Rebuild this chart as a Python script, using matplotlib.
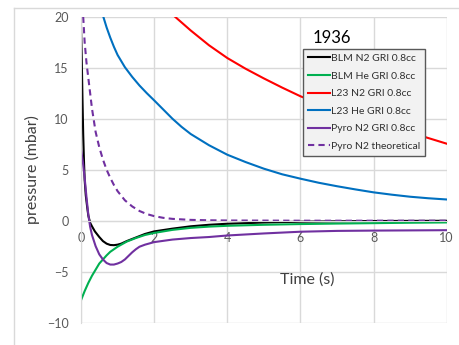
import matplotlib
matplotlib.use("Agg")
import matplotlib.pyplot as plt
from matplotlib.lines import Line2D

plt.rcParams['font.family'] = ['Lato', 'DejaVu Sans']

# --- values ---
blm_n2_t = [0, 0.02, 0.04, 0.06, 0.08, 0.1, 0.13, 0.17, 0.2, 0.25, 0.3, 0.38, 0.5, 0.6,
            0.7, 0.8, 0.9, 1.0, 1.1, 1.25, 1.5, 1.75, 2, 2.5, 3, 3.5, 4, 5, 6, 7, 8, 9, 10]
blm_n2_p = [19, 16, 12, 8.5, 6, 4, 2.5, 1.3, 0.5, -0.2, -0.55, -1.05, -1.6, -2.0,
            -2.25, -2.38, -2.4, -2.35, -2.25, -2.0, -1.65, -1.3, -1.05, -0.78, -0.55,
            -0.4, -0.3, -0.18, -0.1, -0.06, -0.03, -0.02, -0.01]

blm_he_t = [0, 0.1, 0.2, 0.3, 0.4, 0.5, 0.6, 0.7, 0.8, 0.9, 1.0, 1.25, 1.5, 1.75, 2,
            2.5, 3, 3.5, 4, 5, 6, 7, 8, 9, 10]
blm_he_p = [-7.8, -6.9, -6.1, -5.4, -4.8, -4.2, -3.8, -3.4, -3.05, -2.8, -2.55, -2.05,
            -1.7, -1.4, -1.2, -0.9, -0.7, -0.58, -0.5, -0.4, -0.33, -0.28, -0.24, -0.2, -0.17]

l23_n2_t = [2.57, 3, 3.5, 4, 4.5, 5, 5.5, 6, 6.5, 7, 7.5, 8, 8.5, 9, 9.5, 10]
l23_n2_p = [20, 18.65, 17.2, 15.95, 14.9, 13.95, 13.05, 12.2, 11.5, 10.85, 10.25, 9.7,
            9.15, 8.65, 8.1, 7.55]

l23_he_t = [0.61, 0.7, 0.8, 0.9, 1.0, 1.2, 1.4, 1.6, 1.8, 2.0, 2.25, 2.5, 2.75, 3.0,
            3.5, 4.0, 4.5, 5.0, 5.5, 6.0, 6.5, 7.0, 7.5, 8.0, 8.5, 9.0, 9.5, 10]
l23_he_p = [20, 18.95, 17.95, 17.05, 16.25, 15.05, 14.1, 13.25, 12.5, 11.8, 10.9, 10.0,
            9.2, 8.5, 7.4, 6.47, 5.75, 5.1, 4.55, 4.12, 3.72, 3.38, 3.07, 2.78, 2.55,
            2.35, 2.2, 2.08]

pyro_t = [0, 0.05, 0.1, 0.15, 0.2, 0.25, 0.3, 0.4, 0.5, 0.6, 0.7, 0.8, 0.9, 1.0, 1.1,
          1.2, 1.3, 1.4, 1.5, 1.6, 1.75, 2, 2.5, 3, 3.5, 4, 5, 6, 7, 8, 9, 10]
pyro_p = [7.0, 5.8, 4.2, 2.3, 0.6, -0.6, -1.4, -2.5, -3.3, -3.8, -4.15, -4.3, -4.3,
          -4.2, -4.05, -3.8, -3.45, -3.1, -2.8, -2.55, -2.35, -2.1, -1.85, -1.7, -1.6,
          -1.45, -1.25, -1.08, -1.0, -0.97, -0.95, -0.93]

theo_t = [0.06, 0.1, 0.15, 0.2, 0.25, 0.3, 0.4, 0.5, 0.6, 0.7, 0.8, 0.9, 1.0, 1.2, 1.4,
          1.6, 1.8, 2.0, 2.25, 2.5, 3, 3.5, 4, 5, 6, 7, 8, 9, 10]
theo_p = [20, 17.5, 15.5, 14.0, 12.5, 11.0, 8.7, 7.2, 6.0, 5.0, 4.2, 3.5, 2.9, 2.0, 1.4,
          0.95, 0.65, 0.45, 0.28, 0.18, 0.08, 0.04, 0.02, 0.01, 0, 0, 0, 0, 0]

x_ticks = [0, 2, 4, 6, 8, 10]
y_ticks = [-10, -5, 0, 5, 10, 15, 20]

GRID = "#d9d9d9"
TXT = "#595959"

fig = plt.figure(figsize=(4.59, 3.45), dpi=100)
ax = fig.add_axes([81 / 459, 1 - 322.7 / 345, 365.7 / 459, 306 / 345])

lw = 1.5
ax.plot(blm_n2_t, blm_n2_p, color="black", lw=lw, label="BLM N2 GRI 0.8cc")
ax.plot(blm_he_t, blm_he_p, color="#00b050", lw=lw, label="BLM He GRI 0.8cc")
ax.plot(l23_n2_t, l23_n2_p, color="#ff0000", lw=lw, label="L23 N2 GRI 0.8cc")
ax.plot(l23_he_t, l23_he_p, color="#0070c0", lw=lw, label="L23 He GRI 0.8cc")
ax.plot(pyro_t, pyro_p, color="#7030a0", lw=lw, label="Pyro N2 GRI 0.8cc")
ax.plot(theo_t, theo_p, color="#7030a0", lw=lw, ls=(0, (3, 2)), label="Pyro N2 theoretical")

ax.set_xlim(0, 10)
ax.set_ylim(-10, 20)
ax.set_xticks(x_ticks)
ax.set_yticks(y_ticks)
ax.grid(True, color=GRID, lw=1)
ax.set_axisbelow(True)

for s in ["top", "right"]:
    ax.spines[s].set_visible(False)
ax.spines["left"].set_color(GRID)
ax.spines["bottom"].set_color(GRID)
ax.spines["bottom"].set_position(("data", 0))
ax.tick_params(length=0, labelsize=9, labelcolor=TXT)
ax.tick_params(axis="y", pad=9)
ax.tick_params(axis="x", pad=8)

ax.set_ylabel("pressure (mbar)", fontsize=11.5, color="#404040")
ax.yaxis.set_label_coords(-0.112, 0.5)
fig.text(307.7 / 459, 1 - 280 / 345, "Time (s)", fontsize=11.5, color="#404040",
         ha="center", va="center")
fig.text(331.7 / 459, 1 - 38.3 / 345, "1936", fontsize=12, color="black",
         ha="center", va="center")

leg = ax.legend(loc="upper left", bbox_to_anchor=(303.3 / 459, 1 - 49 / 345),
                bbox_transform=fig.transFigure, borderaxespad=0, fontsize=7.5,
                frameon=True, fancybox=False, handlelength=2.1, handletextpad=0.15,
                labelspacing=0.8, borderpad=0.45)
leg.get_frame().set_edgecolor("#595959")
leg.get_frame().set_facecolor("#f2f2f2")
leg.get_frame().set_alpha(1)
leg.get_frame().set_linewidth(1)
for t in leg.get_texts():
    t.set_color("#303030")

# light chart-area border (top and left edges visible)
fig.add_artist(Line2D([14 / 459, 1], [1 - 8 / 345, 1 - 8 / 345], color=GRID, lw=1))
fig.add_artist(Line2D([14 / 459, 14 / 459], [0, 1 - 8 / 345], color=GRID, lw=1))

fig.savefig("out.png", dpi=100)
